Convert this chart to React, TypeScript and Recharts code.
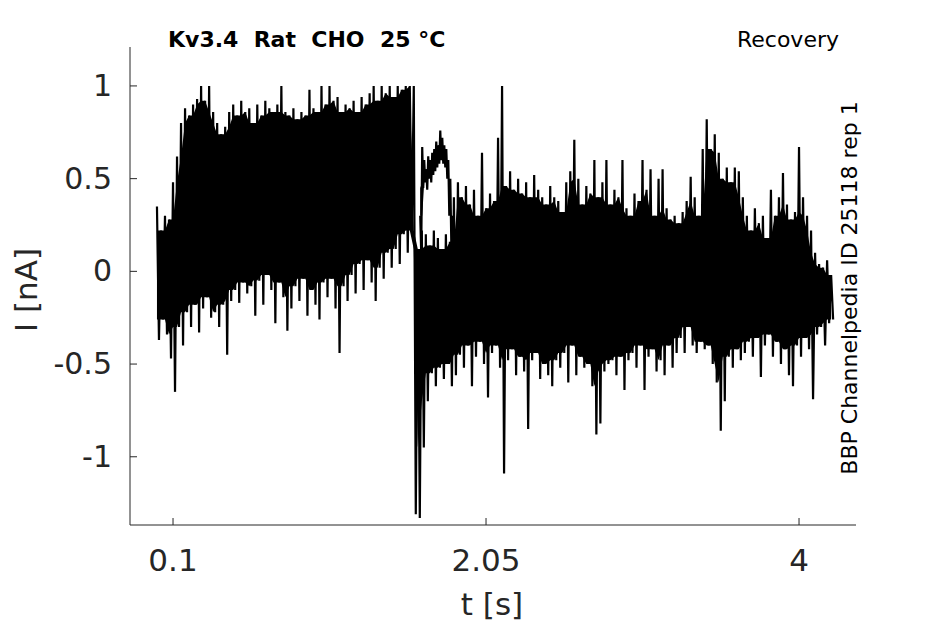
import React from 'react';
import { ComposedChart, Line, Area, XAxis, YAxis } from 'recharts';

// sampled envelope of the recorded traces: one upper and one lower value per sample
const SAMPLE_START = 0;
const SAMPLE_STEP = 0.025; // s

const peaks = [
  0.35, 0.22, 0.3, 0.28, 0.48, 0.62, 0.8, 0.88, 0.84, 0.9, 0.93, 1.0, 0.92, 1.0, 0.86, 0.8,
  0.74, 0.78, 0.86, 0.9, 0.84, 0.92, 0.86, 0.88, 0.8, 0.9, 0.84, 0.92, 0.88, 0.86, 0.9, 1.0,
  0.86, 0.84, 0.88, 0.82, 0.86, 0.84, 0.98, 0.88, 0.86, 1.0, 0.9, 1.0, 0.92, 0.94, 0.86, 0.9,
  0.88, 0.92, 0.86, 0.94, 0.9, 0.96, 1.0, 0.92, 1.0, 0.96, 1.0, 0.94, 1.0, 0.98, 1.0, 1.0,
  // after the step
  1.0, 0.12, 0.22, 0.2, 0.14, 0.22, 0.18, 0.12, 0.2, 0.16, 0.4, 0.48, 0.4, 0.46, 0.36, 0.44,
  0.3, 0.64, 0.34, 0.42, 0.38, 0.72, 1.0, 0.46, 0.54, 0.44, 0.5, 0.42, 0.48, 0.4, 0.52, 0.44,
  0.4, 0.36, 0.46, 0.4, 0.38, 0.32, 0.48, 0.54, 0.71, 0.5, 0.36, 0.46, 0.42, 0.6, 0.4, 0.48,
  0.6, 0.36, 0.44, 0.4, 0.6, 0.34, 0.3, 0.42, 0.38, 0.6, 0.44, 0.55, 0.3, 0.5, 0.55, 0.34,
  0.28, 0.3, 0.26, 0.32, 0.38, 0.51, 0.4, 0.3, 0.66, 0.82, 0.66, 0.74, 0.64, 0.5, 0.56, 0.48,
  0.56, 0.54, 0.4, 0.3, 0.22, 0.34, 0.26, 0.3, 0.18, 0.44, 0.3, 0.4, 0.53, 0.36, 0.28, 0.32,
  0.67, 0.4, 0.3, 0.22, 0.1, 0.04, 0.02, 0.06, -0.02,
];

const troughs = [
  -0.37, -0.26, -0.34, -0.47, -0.65, -0.3, -0.4, -0.22, -0.3, -0.18, -0.33, -0.2, -0.14, -0.25, -0.22, -0.3,
  -0.18, -0.45, -0.16, -0.1, -0.17, -0.06, -0.12, -0.08, -0.24, -0.05, -0.18, -0.02, -0.1, -0.28, -0.06, -0.14,
  -0.32, -0.2, -0.08, -0.16, -0.04, -0.24, -0.1, -0.18, -0.26, -0.06, -0.14, -0.04, -0.2, -0.44, -0.08, -0.16,
  -0.02, -0.12, 0.04, -0.1, 0.06, -0.06, -0.16, 0.02, -0.04, 0.1, 0.02, 0.12, 0.04, 0.2, 0.1, 0.22,
  // after the step
  -1.31, -1.33, -0.95, -0.7, -0.55, -0.62, -0.52, -0.58, -0.5, -0.62, -0.56, -0.45, -0.52, -0.4, -0.62, -0.46,
  -0.38, -0.5, -0.68, -0.44, -0.4, -0.52, -1.09, -0.48, -0.42, -0.56, -0.46, -0.54, -0.85, -0.48, -0.44, -0.58,
  -0.5, -0.56, -0.62, -0.48, -0.52, -0.44, -0.6, -0.4, -0.56, -0.46, -0.52, -0.5, -0.62, -0.88, -0.82, -0.54,
  -0.5, -0.48, -0.56, -0.46, -0.64, -0.48, -0.44, -0.52, -0.4, -0.64, -0.46, -0.42, -0.54, -0.48, -0.56, -0.4,
  -0.52, -0.44, -0.36, -0.44, -0.3, -0.4, -0.44, -0.38, -0.42, -0.4, -0.5, -0.6, -0.86, -0.7, -0.46, -0.52,
  -0.42, -0.48, -0.44, -0.38, -0.46, -0.36, -0.57, -0.4, -0.34, -0.46, -0.38, -0.5, -0.42, -0.56, -0.62, -0.4,
  -0.46, -0.36, -0.42, -0.69, -0.34, -0.3, -0.4, -0.28, -0.26,
];

// the separate trace that loops above the band just after the step
const LOOP_START = 1.64;
const LOOP_STEP = 0.0125;
const loopPeaks = [0.3, 0.67, 0.6, 0.55, 0.62, 0.6, 0.64, 0.66, 0.7, 0.68, 0.76, 0.72, 0.68, 0.66, 0.6, 0.5, 0.3];
const loopTroughs = [0.1, 0.45, 0.48, 0.44, 0.5, 0.48, 0.52, 0.54, 0.56, 0.58, 0.6, 0.58, 0.56, 0.5, 0.3, 0.15, 0.1];

const xTicks = [0.1, 2.05, 4];
const yTicks = [-1, -0.5, 0, 0.5, 1];

const INK = '#262626';
const FONT = '"DejaVu Sans", sans-serif';

const zigzag = (start: number, step: number, hi: number[], lo: number[]) =>
  hi.flatMap((v, i) => [
    { t: start + i * step, I: v },
    { t: start + (i + 0.5) * step, I: lo[i] },
  ]);

// solid part of the band: what every neighbouring sample covers, so single spikes stick out
const core = (start: number, step: number, hi: number[], lo: number[]) =>
  hi.map((_, i) => {
    const a = Math.max(0, i - 1);
    const b = Math.min(hi.length - 1, i + 1);
    const top = Math.min(hi[a], hi[i], hi[b]);
    const bottom = Math.max(lo[a], lo[i], lo[b]);
    return { t: start + i * step, band: [Math.min(bottom, top), Math.max(bottom, top)] };
  });

const mainTrace = zigzag(SAMPLE_START, SAMPLE_STEP, peaks, troughs);
const mainCore = core(SAMPLE_START, SAMPLE_STEP, peaks, troughs);
const loopTrace = zigzag(LOOP_START, LOOP_STEP, loopPeaks, loopTroughs);
const loopCore = core(LOOP_START, LOOP_STEP, loopPeaks, loopTroughs);

const XTick = (props: any) => {
  const { x, y, payload } = props;
  return (
    <g>
      <line x1={x} x2={x} y1={y} y2={y - 7} stroke={INK} strokeWidth={1} />
      <text x={x} y={y + 46} textAnchor="middle" fontSize={31} fontFamily={FONT} fill={INK}>
        {payload.value}
      </text>
    </g>
  );
};

const YTick = (props: any) => {
  const { x, y, payload } = props;
  return (
    <g>
      <line x1={x} x2={x + 7} y1={y} y2={y} stroke={INK} strokeWidth={1} />
      <text x={x - 18} y={y + 10} textAnchor="end" fontSize={30} fontFamily={FONT} fill={INK}>
        {payload.value}
      </text>
    </g>
  );
};

export default function App() {
  return (
    <div style={{ position: 'absolute', left: 0, top: 0, width: 945, height: 624, background: '#fff' }}>
      <ComposedChart width={945} height={624} margin={{ top: 47, right: 89, bottom: 0, left: 0 }}>
        <XAxis
          type="number"
          dataKey="t"
          domain={[-0.168, 4.355]}
          ticks={xTicks}
          tick={<XTick />}
          tickSize={0}
          tickMargin={0}
          height={99}
          stroke={INK}
          allowDataOverflow
        />
        <YAxis
          type="number"
          domain={[-1.368, 1.21]}
          ticks={yTicks}
          tick={<YTick />}
          tickSize={0}
          tickMargin={0}
          width={130}
          stroke={INK}
          allowDataOverflow
        />
        <Area
          data={mainCore}
          dataKey="band"
          type="linear"
          fill="#000"
          fillOpacity={1}
          stroke="none"
          isAnimationActive={false}
        />
        <Area
          data={loopCore}
          dataKey="band"
          type="linear"
          fill="#000"
          fillOpacity={1}
          stroke="none"
          isAnimationActive={false}
        />
        <Line
          data={mainTrace}
          dataKey="I"
          type="linear"
          stroke="#000"
          strokeWidth={2.2}
          dot={false}
          isAnimationActive={false}
        />
        <Line
          data={loopTrace}
          dataKey="I"
          type="linear"
          stroke="#000"
          strokeWidth={2.2}
          dot={false}
          isAnimationActive={false}
        />
      </ComposedChart>
      <svg
        width={945}
        height={624}
        style={{ position: 'absolute', left: 0, top: 0, pointerEvents: 'none' }}
        fontFamily={FONT}
      >
        <text x={168} y={47} fontSize={22} fontWeight="bold" fill="#000" style={{ whiteSpace: 'pre' }}>
          {'Kv3.4  Rat  CHO  25 °C'}
        </text>
        <text x={839} y={47} fontSize={22} textAnchor="end" fill="#000">
          Recovery
        </text>
        <text
          x={857}
          y={288}
          fontSize={22}
          textAnchor="middle"
          fill="#000"
          transform="rotate(-90 857 288)"
        >
          BBP Channelpedia ID 25118 rep 1
        </text>
        <text x={492} y={615} fontSize={31} textAnchor="middle" fill={INK}>
          t [s]
        </text>
        <text
          x={37}
          y={290}
          fontSize={31}
          textAnchor="middle"
          fill={INK}
          transform="rotate(-90 37 290)"
        >
          I [nA]
        </text>
      </svg>
    </div>
  );
}
